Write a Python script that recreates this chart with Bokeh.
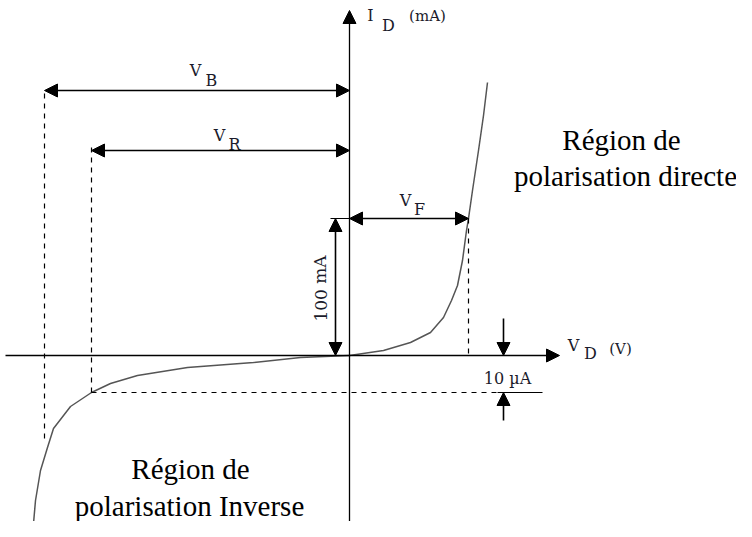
from bokeh.plotting import figure
from bokeh.models import Range1d, Arrow, NormalHead
from bokeh.core.properties import value
from bokeh.embed import file_html
from bokeh.resources import INLINE

# Diagram coordinates: origin at axis crossing, x = voltage (arb.), y = current (arb.)
v_forward = [0, 34, 61, 81, 94, 102, 108, 113, 117, 119, 123, 129, 134, 138]
i_forward = [0, 5, 13, 23, 38, 55, 70, 95, 125, 137, 165, 205, 240, 273]
v_reverse = [0, -49, -96, -162, -212, -239, -258, -279, -296, -302, -309, -314, -316]
i_reverse = [0, -2, -7, -12, -20, -28, -37, -51, -73, -92, -115, -145, -168]

V_B = -305
V_R = -258
V_F = 119
I_100mA = 137
I_10uA = -37
X_AXIS_END = 210
Y_AXIS_END = 345

p = figure(width=736, height=521, output_backend="svg", toolbar_location=None,
           x_range=Range1d(-349, 387), y_range=Range1d(-166, 355), min_border=0)
p.axis.visible = False
p.grid.visible = False
p.outline_line_color = None

def arrow(x0, y0, x1, y1, both=False, lw=1.6, size=13):
    head = NormalHead(size=size, fill_color="black", line_color="black")
    start = NormalHead(size=size, fill_color="black", line_color="black") if both else None
    p.add_layout(Arrow(x_start=x0, y_start=y0, x_end=x1, y_end=y1, end=head, start=start,
                       line_color="black", line_width=lw))

# axes
arrow(-344, 0, X_AXIS_END, 0, lw=1.3)
arrow(0, -185, 0, Y_AXIS_END, lw=1.3)

# curves
p.line(v_forward, i_forward, line_color="#555555", line_width=1.5)
p.line(v_reverse, i_reverse, line_color="#555555", line_width=1.5)

# dashed guides
p.line([V_B, V_B], [262, -85], line_color="black", line_dash="5 5", line_width=1.2)
p.line([V_R, V_R], [208, I_10uA], line_color="black", line_dash="5 5", line_width=1.2)
p.line([V_F, V_F], [I_100mA, 0], line_color="black", line_dash="5 5", line_width=1.2)
p.line([V_R, 148], [I_10uA, I_10uA], line_color="black", line_dash="5 5", line_width=1.2)
p.line([148, 193], [I_10uA, I_10uA], line_color="black", line_width=1.2)
p.line([-19, 3], [I_100mA, I_100mA], line_color="black", line_width=1.2)

# dimension arrows
arrow(V_B, 265, 0, 265, both=True)
arrow(V_R, 205, 0, 205, both=True)
arrow(0, I_100mA, V_F, I_100mA, both=True)
arrow(-14, I_100mA, -14, 0, both=True)
arrow(154, 37, 154, 0)
arrow(154, -65, 154, I_10uA)

sym_font = value("DejaVu Serif")
ink = "#1b1b2b"
main_x = [-154, -130, 56, 21, 224]
main_y = [285, 220, 155, 340, 10]
main_t = ["V", "V", "V", "I", "V"]
p.text(main_x, main_y, text=main_t, text_font=sym_font, text_font_size="16px",
       text_align="center", text_baseline="middle", text_color=ink)
sub_x = [-138, -115, 70, 39, 241]
sub_y = [275, 211, 146, 330, 2]
sub_t = ["B", "R", "F", "D", "D"]
p.text(sub_x, sub_y, text=sub_t, text_font=sym_font, text_font_size="16px",
       text_align="center", text_baseline="middle", text_color=ink)
p.text([78, 271], [340, 7], text=["(mA)", "(V)"], text_font=sym_font, text_font_size="15px",
       text_align="center", text_baseline="middle", text_color=ink)
p.text([158], [-23], text=["10 µA"], text_font=sym_font, text_font_size="16px",
       text_align="center", text_baseline="middle", text_color=ink)
p.text([-29], [67], text=["100 mA"], text_font=sym_font, text_font_size="17px",
       text_align="center", text_baseline="middle", text_color=ink, angle=1.5708)

reg_font = value("Liberation Serif")
p.text([272, 276], [216, 180], text=["Région de", "polarisation directe"], text_font=reg_font,
       text_font_size="29px", text_align="center", text_baseline="alphabetic", text_color="black")
p.text([-159, -160], [-113, -150], text=["Région de", "polarisation Inverse"], text_font=reg_font,
       text_font_size="29px", text_align="center", text_baseline="alphabetic", text_color="black")

open("out.html", "w").write(file_html(p, INLINE))
